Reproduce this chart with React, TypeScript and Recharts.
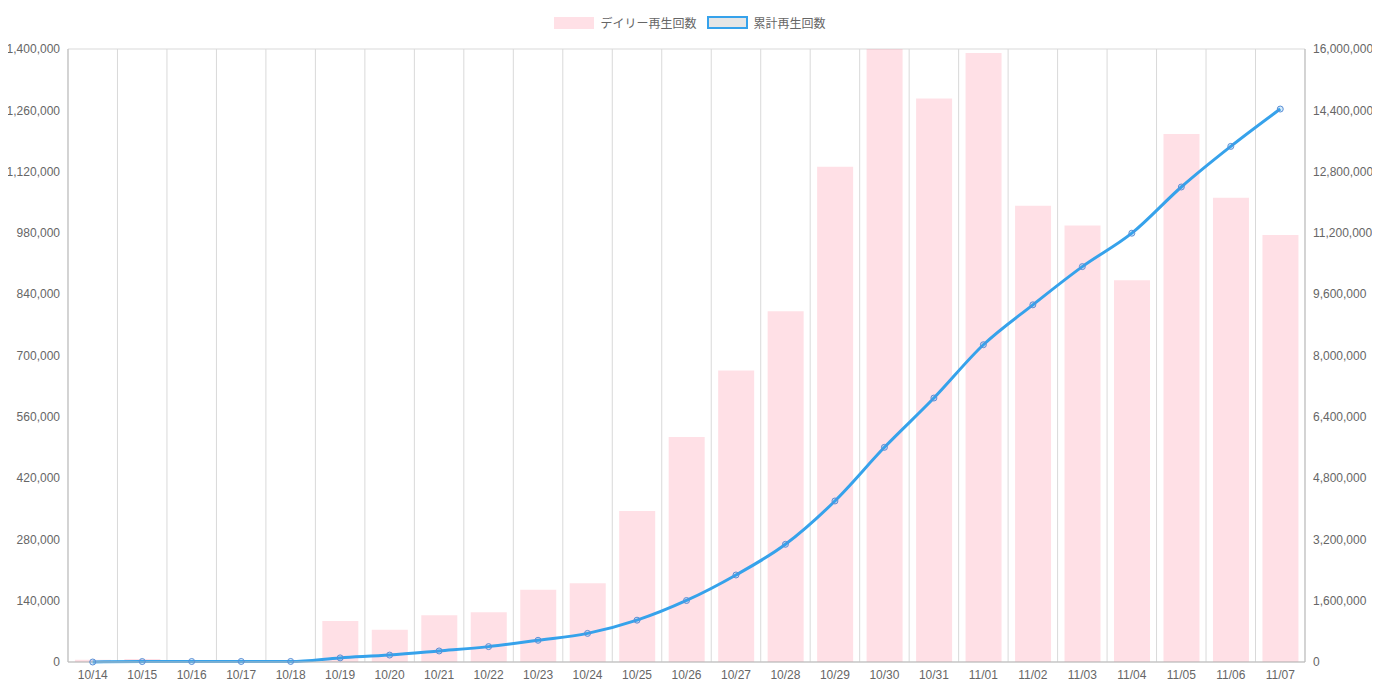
import React from 'react';
import { ComposedChart, Bar, Line, XAxis, YAxis, CartesianGrid, Legend } from 'recharts';

const dates = ['10/14','10/15','10/16','10/17','10/18','10/19','10/20','10/21','10/22','10/23','10/24','10/25','10/26','10/27','10/28','10/29','10/30','10/31','11/01','11/02','11/03','11/04','11/05','11/06','11/07'];
const daily = [5000,7000,1000,500,500,93500,73500,107000,113500,165000,180000,345000,514000,665500,801000,1131000,1400000,1287000,1391000,1042000,997000,872000,1206000,1060000,975000];
const total = [0,12000,13000,13500,14000,107500,181000,288000,401500,566500,746500,1091500,1605500,2271000,3072000,4203000,5603000,6890000,8281000,9323000,10320000,11192000,12398000,13458000,14433000];
const leftTicks = [0,140000,280000,420000,560000,700000,840000,980000,1120000,1260000,1400000];
const rightTicks = [0,1600000,3200000,4800000,6400000,8000000,9600000,11200000,12800000,14400000,16000000];

const data = dates.map((d, i) => ({ d, daily: daily[i], total: total[i] }));
const fmt = (v: number) => v.toLocaleString('en-US');
const tick = { fill: '#666', fontSize: 12, fontFamily: 'Arial, Liberation Sans, sans-serif' };

const LegendContent = () => (
  <div style={{ display: 'flex', justifyContent: 'center', gap: 10, fontSize: 12, color: '#666', fontFamily: 'Arial, Liberation Sans, Noto Sans CJK JP, sans-serif' }}>
    <span style={{ display: 'flex', alignItems: 'center' }}>
      <span style={{ width: 40, height: 12, background: 'rgba(255,99,132,0.2)', marginRight: 6 }} />デイリー再生回数
    </span>
    <span style={{ display: 'flex', alignItems: 'center' }}>
      <span style={{ width: 37, height: 9, background: '#e6e6e6', border: '2px solid #36a2eb', marginRight: 6 }} />累計再生回数
    </span>
  </div>
);

export default function App() {
  return (
    <ComposedChart width={1364} height={674} data={data} margin={{ top: 24, right: 0, bottom: 0, left: 0 }} barCategoryGap="14%">
      <CartesianGrid stroke="#d9d9d9" verticalCoordinatesGenerator={({ offset }: any) => {
        const arr: number[] = [];
        for (let i = 0; i <= dates.length; i++) arr.push(offset.left + (offset.width * i) / dates.length);
        return arr;
      }} />
      <Legend verticalAlign="top" align="center" content={<LegendContent />} wrapperStyle={{ top: 6 }} />
      <XAxis dataKey="d" tick={tick} tickLine={false} axisLine={{ stroke: '#bbb' }} height={20} interval={0} />
      <YAxis yAxisId="l" domain={[0, 1400000]} ticks={leftTicks} tickFormatter={fmt} tick={tick} width={60} tickLine={false} axisLine={{ stroke: '#bbb' }} />
      <YAxis yAxisId="r" orientation="right" domain={[0, 16000000]} ticks={rightTicks} tickFormatter={fmt} tick={tick} width={67} tickLine={false} axisLine={{ stroke: '#bbb' }} />
      <Bar yAxisId="l" dataKey="daily" fill="rgba(255,99,132,0.2)" isAnimationActive={false} />
      <Line yAxisId="r" dataKey="total" type="monotone" stroke="#36a2eb" strokeWidth={3}
        dot={{ r: 3, fill: 'rgba(54,162,235,0.2)', stroke: '#5b8fd6', strokeWidth: 1 }} isAnimationActive={false} />
    </ComposedChart>
  );
}
